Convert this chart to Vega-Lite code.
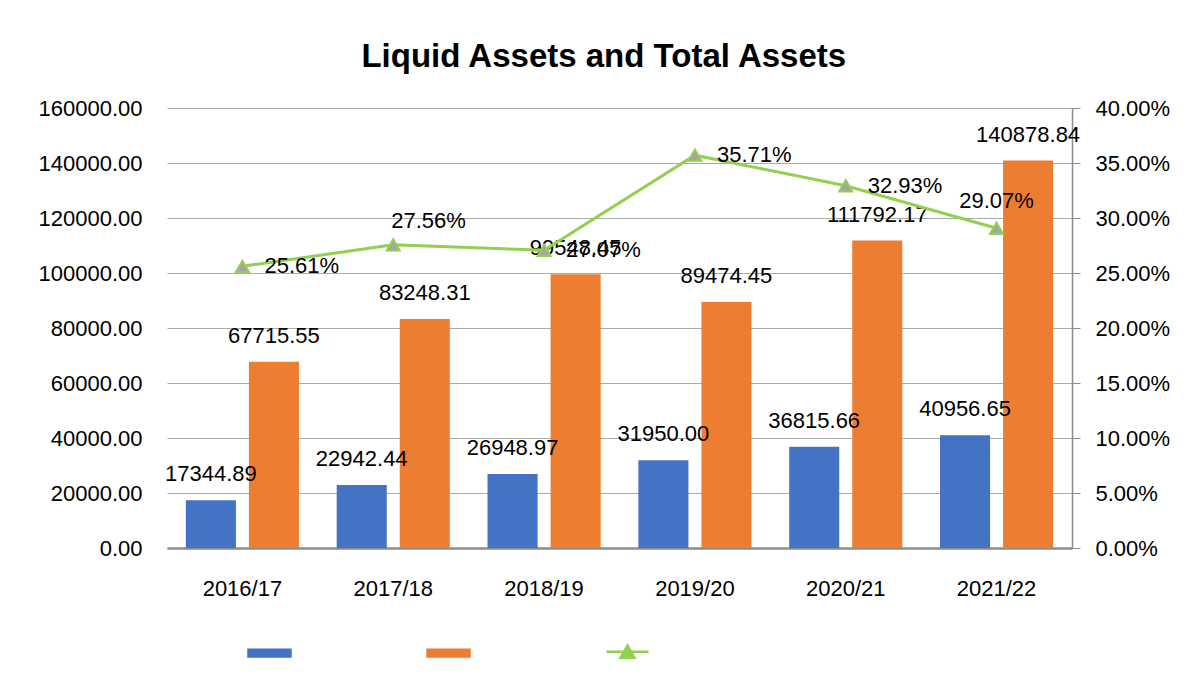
{
  "$schema": "https://vega.github.io/schema/vega-lite/v6.json",
  "autosize": "none",
  "width": 905,
  "height": 440,
  "padding": {"left": 167, "top": 108, "right": 127, "bottom": 133},
  "background": "white",
  "title": {
    "text": "Liquid Assets and Total Assets",
    "font": "Liberation Sans",
    "fontSize": 33,
    "fontWeight": "bold",
    "color": "black",
    "anchor": "middle",
    "frame": "bounds",
    "offset": 23
  },
  "data": {
    "values": [
      {"year": "2016/17", "Liquid Assets": 17344.89, "Total Assets": 67715.55, "ratio": 0.2561},
      {"year": "2017/18", "Liquid Assets": 22942.44, "Total Assets": 83248.31, "ratio": 0.2756},
      {"year": "2018/19", "Liquid Assets": 26948.97, "Total Assets": 99548.45, "ratio": 0.2707},
      {"year": "2019/20", "Liquid Assets": 31950.00, "Total Assets": 89474.45, "ratio": 0.3571},
      {"year": "2020/21", "Liquid Assets": 36815.66, "Total Assets": 111792.17, "ratio": 0.3293},
      {"year": "2021/22", "Liquid Assets": 40956.65, "Total Assets": 140878.84, "ratio": 0.2907}
    ]
  },
  "encoding": {
    "x": {
      "field": "year",
      "type": "nominal",
      "sort": null,
      "scale": {"paddingInner": 0.25, "paddingOuter": 0.125},
      "axis": {
        "title": null,
        "labelAngle": 0,
        "labelFont": "Liberation Sans",
        "labelFontSize": 22,
        "labelColor": "black",
        "labelBaseline": "alphabetic",
        "labelPadding": 47,
        "ticks": false,
        "domain": true,
        "domainColor": "#8C8C8C",
        "domainWidth": 2.5,
        "grid": false
      }
    }
  },
  "layer": [
    {
      "transform": [{"fold": ["Liquid Assets", "Total Assets"], "as": ["series", "value"]}],
      "encoding": {
        "y": {
          "field": "value",
          "type": "quantitative",
          "scale": {"domain": [0, 160000], "nice": false},
          "axis": {
            "orient": "left",
            "title": null,
            "values": [0, 20000, 40000, 60000, 80000, 100000, 120000, 140000, 160000],
            "format": ".2f",
            "labelFont": "Liberation Sans",
            "labelFontSize": 22,
            "labelColor": "black",
            "labelPadding": 25,
            "ticks": false,
            "domain": false,
            "grid": true,
            "gridColor": "#ABABAB",
            "gridWidth": 1.2
          }
        },
        "xOffset": {
          "field": "series",
          "type": "nominal",
          "sort": ["Liquid Assets", "Total Assets"],
          "scale": {"paddingInner": 0.206, "paddingOuter": 0}
        }
      },
      "layer": [
        {
          "mark": {"type": "bar"},
          "encoding": {
            "color": {
              "field": "series",
              "type": "nominal",
              "scale": {
                "domain": ["Liquid Assets", "Total Assets", "Ratio"],
                "range": ["#4472C4", "#ED7D31", "#92D050"]
              },
              "legend": {
                "orient": "none",
                "legendX": 80,
                "legendY": 521,
                "direction": "horizontal",
                "title": null,
                "labelExpr": "''",
                "labelOffset": 0,
                "columnPadding": 126,
                "symbolSize": 1764,
                "padding": 0,
                "encode": {
                  "symbols": {
                    "update": {
                      "shape": {"signal": "datum.value === 'Ratio' ? 'M-1,0H1M-0.33,0.29L0,-0.29L0.33,0.29Z' : 'M-1,-0.16H1V0.16H-1Z'"},
                      "fill": {"signal": "datum.value === 'Liquid Assets' ? '#4472C4' : datum.value === 'Total Assets' ? '#ED7D31' : '#A5A5A5'"},
                      "stroke": {"signal": "datum.value === 'Ratio' ? '#92D050' : 'transparent'"},
                      "strokeWidth": {"value": 2.5},
                      "opacity": {"value": 1},
                      "fillOpacity": {"value": 1},
                      "size": {"value": 1764}
                    }
                  }
                }
              }
            }
          }
        },
        {
          "mark": {"type": "text", "baseline": "alphabetic", "dy": -19, "font": "Liberation Sans", "fontSize": 22, "color": "black"},
          "encoding": {
            "text": {"field": "value", "type": "quantitative", "format": ".2f"}
          }
        }
      ]
    },
    {
      "encoding": {
        "y": {
          "field": "ratio",
          "type": "quantitative",
          "scale": {"domain": [0, 0.4], "nice": false},
          "axis": {
            "orient": "right",
            "title": null,
            "values": [0, 0.05, 0.1, 0.15, 0.2, 0.25, 0.3, 0.35, 0.4],
            "format": ".2%",
            "labelFont": "Liberation Sans",
            "labelFontSize": 22,
            "labelColor": "black",
            "labelPadding": 15,
            "ticks": true,
            "tickSize": 8,
            "tickColor": "#8C8C8C",
            "domain": true,
            "domainColor": "#8C8C8C",
            "domainWidth": 1.5,
            "grid": false
          }
        }
      },
      "layer": [
        {
          "mark": {"type": "line", "strokeWidth": 3},
          "encoding": {"color": {"datum": "Ratio"}}
        },
        {
          "mark": {"type": "point", "shape": "triangle-up", "filled": true, "fill": "#A5A5A5", "stroke": "#92D050", "strokeWidth": 2, "size": 170, "opacity": 1}
        },
        {
          "transform": [{"filter": {"field": "year", "oneOf": ["2016/17", "2018/19", "2019/20", "2020/21"]}}],
          "mark": {"type": "text", "align": "left", "baseline": "middle", "dx": 22, "font": "Liberation Sans", "fontSize": 22, "color": "black"},
          "encoding": {"text": {"field": "ratio", "type": "quantitative", "format": ".2%"}}
        },
        {
          "transform": [{"filter": {"field": "year", "oneOf": ["2017/18"]}}],
          "mark": {"type": "text", "align": "left", "baseline": "middle", "dx": -2, "dy": -24, "font": "Liberation Sans", "fontSize": 22, "color": "black"},
          "encoding": {"text": {"field": "ratio", "type": "quantitative", "format": ".2%"}}
        },
        {
          "transform": [{"filter": {"field": "year", "oneOf": ["2021/22"]}}],
          "mark": {"type": "text", "align": "center", "baseline": "middle", "dy": -27, "font": "Liberation Sans", "fontSize": 22, "color": "black"},
          "encoding": {"text": {"field": "ratio", "type": "quantitative", "format": ".2%"}}
        }
      ]
    }
  ],
  "resolve": {"scale": {"y": "independent"}},
  "config": {"view": {"stroke": null}}
}
